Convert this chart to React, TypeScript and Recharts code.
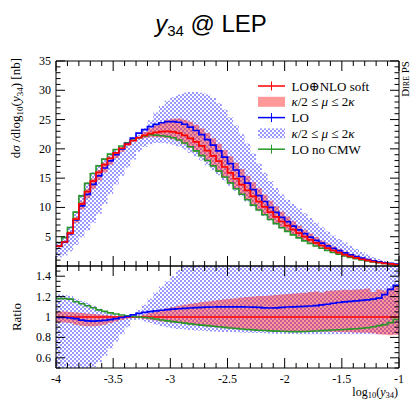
import React from 'react';
import { ComposedChart, Line, Area, XAxis, YAxis, ReferenceLine } from 'recharts';

// ---------- data ----------
const binEdges = [-4, -3.95, -3.9, -3.85, -3.8, -3.75, -3.7, -3.65, -3.6, -3.55, -3.5, -3.45, -3.4, -3.35, -3.3, -3.25, -3.2, -3.15, -3.1, -3.05, -3, -2.95, -2.9, -2.85, -2.8, -2.75, -2.7, -2.65, -2.6, -2.55, -2.5, -2.45, -2.4, -2.35, -2.3, -2.25, -2.2, -2.15, -2.1, -2.05, -2, -1.95, -1.9, -1.85, -1.8, -1.75, -1.7, -1.65, -1.6, -1.55, -1.5, -1.45, -1.4, -1.35, -1.3, -1.25, -1.2, -1.15, -1.1, -1.05, -1];

// LO(+)NLO soft (red)
const nloSoft = [3.4, 4.1, 5.6, 8.0, 10.6, 12.7, 14.5, 16.0, 17.3, 18.4, 19.3, 20.1, 20.8, 21.4, 21.9, 22.3, 22.6, 22.8, 22.95, 23.0, 22.9, 22.7, 22.3, 21.8, 21.2, 20.5, 19.7, 18.8, 17.9, 16.9, 15.9, 14.9, 13.9, 12.9, 11.9, 11.0, 10.1, 9.2, 8.4, 7.6, 6.9, 6.2, 5.6, 5.0, 4.45, 3.95, 3.5, 3.05, 2.65, 2.3, 1.95, 1.65, 1.4, 1.15, 0.95, 0.75, 0.6, 0.45, 0.35, 0.25];
const nloSoftLow = [3.21, 3.87, 5.26, 7.4, 9.7, 11.56, 13.2, 14.64, 16.0, 17.3, 18.43, 19.5, 20.49, 21.29, 21.68, 21.85, 21.97, 22.0, 21.96, 21.85, 21.62, 21.29, 20.78, 20.19, 19.5, 18.74, 17.89, 16.96, 16.06, 15.07, 14.12, 13.17, 12.23, 11.3, 10.38, 9.55, 8.74, 7.93, 7.22, 6.52, 5.91, 5.3, 4.79, 4.28, 3.81, 3.39, 3.0, 2.61, 2.27, 1.96, 1.66, 1.4, 1.19, 0.97, 0.8, 0.63, 0.51, 0.38, 0.3, 0.21];
const nloSoftHigh = [3.59, 4.33, 5.88, 8.36, 11.02, 13.14, 14.94, 16.4, 17.65, 18.68, 19.49, 20.22, 20.88, 21.51, 22.16, 22.86, 23.5, 24.05, 24.56, 24.96, 25.14, 25.2, 24.98, 24.63, 24.13, 23.49, 22.71, 21.81, 20.89, 19.82, 18.73, 17.64, 16.54, 15.42, 14.28, 13.26, 12.17, 11.13, 10.21, 9.27, 8.45, 7.63, 6.9, 6.19, 5.54, 4.94, 4.34, 3.83, 3.34, 2.9, 2.47, 2.09, 1.78, 1.46, 1.22, 0.93, 0.76, 0.57, 0.45, 0.33];

// LO (blue)
const loValues = [3.38, 4.08, 5.54, 7.88, 10.28, 12.22, 13.92, 15.39, 16.73, 17.94, 19.01, 20.0, 20.9, 21.83, 22.67, 23.3, 23.78, 24.17, 24.46, 24.66, 24.66, 24.54, 24.2, 23.72, 23.13, 22.43, 21.59, 20.64, 19.67, 18.59, 17.49, 16.39, 15.28, 14.16, 13.04, 12.03, 11.01, 10.01, 9.16, 8.31, 7.58, 6.82, 6.17, 5.53, 4.93, 4.39, 3.91, 3.43, 3.01, 2.63, 2.24, 1.9, 1.62, 1.34, 1.11, 0.88, 0.71, 0.55, 0.44, 0.33];
const loLow = [1.5, 1.8, 2.5, 3.6, 4.9, 6.1, 7.4, 8.9, 10.6, 12.3, 13.9, 15.4, 16.8, 18.2, 19.5, 20.3, 20.8, 21.0, 21.0, 20.9, 20.7, 20.4, 19.9, 19.3, 18.7, 18.0, 17.2, 16.35, 15.5, 14.6, 13.7, 12.8, 11.9, 11.0, 10.1, 9.33, 8.54, 7.77, 7.09, 6.41, 5.82, 5.22, 4.72, 4.21, 3.75, 3.33, 2.95, 2.57, 2.23, 1.94, 1.64, 1.39, 1.18, 0.97, 0.8, 0.63, 0.5, 0.38, 0.29, 0.21];
const loHigh = [4.2, 5.0, 6.8, 9.4, 12.2, 14.3, 16.0, 17.3, 18.4, 19.2, 19.9, 20.5, 21.2, 22.0, 22.4, 23.5, 24.9, 26.2, 27.3, 28.2, 28.8, 29.3, 29.6, 29.7, 29.7, 29.6, 29.3, 28.7, 27.8, 26.7, 25.4, 24.0, 22.5, 20.9, 19.2, 17.5, 15.9, 14.5, 13.3, 12.2, 11.3, 10.6, 9.8, 9.0, 8.2, 7.4, 6.6, 5.9, 5.2, 4.6, 4.0, 3.45, 2.9, 2.4, 1.95, 1.55, 1.2, 0.85, 0.55, 0.3];

// LO no CMW (green)
const noCmw = [4.0, 4.84, 6.58, 9.2, 11.98, 14.1, 15.8, 17.1, 18.25, 19.1, 19.9, 20.5, 21.05, 21.5, 21.9, 22.2, 22.4, 22.35, 22.25, 22.1, 21.9, 21.5, 21.0, 20.35, 19.65, 18.85, 18.0, 17.1, 16.2, 15.2, 14.2, 13.2, 12.25, 11.3, 10.4, 9.57, 8.76, 7.95, 7.24, 6.54, 5.92, 5.31, 4.8, 4.29, 3.83, 3.41, 3.03, 2.65, 2.31, 2.01, 1.71, 1.45, 1.24, 1.02, 0.85, 0.68, 0.55, 0.42, 0.33, 0.24];

// Ratio panel (relative to LO(+)NLO soft)
const ratioLo = [0.995, 0.995, 0.99, 0.985, 0.97, 0.962, 0.96, 0.962, 0.967, 0.975, 0.985, 0.995, 1.005, 1.02, 1.035, 1.045, 1.052, 1.06, 1.066, 1.072, 1.077, 1.081, 1.085, 1.088, 1.091, 1.094, 1.096, 1.098, 1.099, 1.1, 1.1, 1.1, 1.099, 1.098, 1.096, 1.094, 1.09, 1.088, 1.09, 1.094, 1.098, 1.1, 1.102, 1.105, 1.108, 1.112, 1.118, 1.125, 1.135, 1.142, 1.148, 1.153, 1.158, 1.163, 1.168, 1.175, 1.185, 1.22, 1.27, 1.31];
const ratioNoCmw = [1.18, 1.18, 1.175, 1.15, 1.13, 1.11, 1.09, 1.07, 1.055, 1.04, 1.03, 1.02, 1.012, 1.005, 1.0, 0.995, 0.99, 0.98, 0.97, 0.962, 0.955, 0.948, 0.94, 0.933, 0.927, 0.92, 0.915, 0.91, 0.905, 0.898, 0.892, 0.887, 0.882, 0.878, 0.874, 0.87, 0.867, 0.864, 0.862, 0.86, 0.858, 0.857, 0.857, 0.858, 0.86, 0.863, 0.866, 0.869, 0.872, 0.875, 0.878, 0.881, 0.885, 0.89, 0.895, 0.905, 0.915, 0.925, 0.945, 0.975];
const ratioNloLow = [0.945, 0.945, 0.94, 0.925, 0.915, 0.91, 0.91, 0.915, 0.925, 0.94, 0.955, 0.97, 0.985, 0.995, 0.99, 0.98, 0.972, 0.965, 0.957, 0.95, 0.944, 0.938, 0.932, 0.926, 0.92, 0.914, 0.908, 0.902, 0.897, 0.892, 0.888, 0.884, 0.88, 0.876, 0.872, 0.868, 0.865, 0.862, 0.86, 0.858, 0.856, 0.855, 0.855, 0.856, 0.857, 0.858, 0.858, 0.857, 0.855, 0.853, 0.851, 0.85, 0.848, 0.846, 0.845, 0.84, 0.83, 0.825, 0.82, 0.825];
const ratioNloHigh = [1.055, 1.055, 1.05, 1.045, 1.04, 1.035, 1.03, 1.025, 1.02, 1.015, 1.01, 1.006, 1.004, 1.005, 1.012, 1.025, 1.04, 1.055, 1.07, 1.085, 1.098, 1.11, 1.12, 1.13, 1.138, 1.146, 1.153, 1.16, 1.167, 1.173, 1.178, 1.184, 1.19, 1.195, 1.2, 1.205, 1.205, 1.21, 1.215, 1.22, 1.225, 1.23, 1.232, 1.238, 1.245, 1.25, 1.24, 1.255, 1.26, 1.262, 1.268, 1.265, 1.27, 1.272, 1.28, 1.245, 1.27, 1.26, 1.285, 1.3];
const ratioLoLow = [0.4, 0.4, 0.4, 0.42, 0.45, 0.48, 0.51, 0.56, 0.62, 0.69, 0.76, 0.83, 0.9, 0.97, 0.975, 0.955, 0.94, 0.925, 0.91, 0.9, 0.89, 0.883, 0.877, 0.872, 0.868, 0.864, 0.861, 0.858, 0.856, 0.854, 0.852, 0.85, 0.848, 0.846, 0.844, 0.842, 0.84, 0.838, 0.836, 0.835, 0.834, 0.833, 0.832, 0.832, 0.831, 0.831, 0.83, 0.83, 0.83, 0.83, 0.83, 0.83, 0.83, 0.83, 0.83, 0.83, 0.83, 0.83, 0.83, 0.83];
const ratioLoHigh = [1.22, 1.215, 1.205, 1.18, 1.16, 1.14, 1.11, 1.08, 1.055, 1.035, 1.02, 1.008, 1.002, 1.01, 1.07, 1.12, 1.18, 1.24, 1.3, 1.35, 1.4, 1.46, 1.52, 1.58, 1.6, 1.6, 1.6, 1.6, 1.6, 1.6, 1.6, 1.6, 1.6, 1.6, 1.6, 1.6, 1.6, 1.6, 1.6, 1.6, 1.6, 1.6, 1.6, 1.6, 1.6, 1.6, 1.6, 1.6, 1.6, 1.6, 1.6, 1.6, 1.6, 1.6, 1.6, 1.6, 1.6, 1.6, 1.6, 1.6];

// ticks
const xTicks = [-4, -3.9, -3.8, -3.7, -3.6, -3.5, -3.4, -3.3, -3.2, -3.1, -3, -2.9, -2.8, -2.7, -2.6, -2.5, -2.4, -2.3, -2.2, -2.1, -2, -1.9, -1.8, -1.7, -1.6, -1.5, -1.4, -1.3, -1.2, -1.1, -1];
const xMajor = [-4, -3.5, -3, -2.5, -2, -1.5, -1];
const mainYTicks = [1, 2, 3, 4, 5, 6, 7, 8, 9, 10, 11, 12, 13, 14, 15, 16, 17, 18, 19, 20, 21, 22, 23, 24, 25, 26, 27, 28, 29, 30, 31, 32, 33, 34, 35];
const mainYMajor = [5, 10, 15, 20, 25, 30, 35];
const ratioYTicks = [0.5, 0.55, 0.6, 0.65, 0.7, 0.75, 0.8, 0.85, 0.9, 0.95, 1, 1.05, 1.1, 1.15, 1.2, 1.25, 1.3, 1.35, 1.4, 1.45, 1.5];
const ratioYMajor = [0.6, 0.8, 1, 1.2, 1.4];

// ---------- tables ----------
const mainRows = binEdges.map((x, i) => {
  const k = Math.min(i, nloSoft.length - 1);
  return {
    x,
    nlo: nloSoft[k],
    nloBand: [nloSoftLow[k], nloSoftHigh[k]],
    lo: loValues[k],
    loBand: [loLow[k], loHigh[k]],
    nocmw: noCmw[k],
  };
});
const ratioRows = binEdges.map((x, i) => {
  const k = Math.min(i, ratioLo.length - 1);
  return {
    x,
    lo: ratioLo[k],
    nocmw: ratioNoCmw[k],
    nloBand: [ratioNloLow[k], ratioNloHigh[k]],
    loBand: [ratioLoLow[k], ratioLoHigh[k]],
  };
});

// ---------- style ----------
const SERIF = '"Liberation Serif", "DejaVu Serif", serif';
const RED = '#ff0000';
const BLUE = '#0000ff';
const GREEN = '#2a962a';
const HATCH = '#9898ff';

const isMajor = (v: number, majors: number[]) => majors.some((m) => Math.abs(m - v) < 1e-6);

const makeTick = (side: string, majors: number[], majorLen: number, minorLen: number, label: boolean) =>
  (props: any) => {
    const { x, y, payload } = props;
    const v = payload.value;
    const major = isMajor(v, majors);
    const len = major ? majorLen : minorLen;
    let x2 = x, y2 = y;
    if (side === 'bottom') y2 = y - len;
    if (side === 'top') y2 = y + len;
    if (side === 'left') x2 = x + len;
    if (side === 'right') x2 = x - len;
    let text = null;
    if (label && major) {
      if (side === 'bottom') {
        text = (
          <text x={x} y={y + 14.5} textAnchor="middle" fontFamily={SERIF} fontSize={12} fill="#000">
            {String(v)}
          </text>
        );
      } else if (side === 'left') {
        text = (
          <text x={x - 5} y={y + 4} textAnchor="end" fontFamily={SERIF} fontSize={12} fill="#000">
            {String(v)}
          </text>
        );
      }
    }
    return (
      <g>
        <line x1={x} y1={y} x2={x2} y2={y2} stroke="#000" strokeWidth={1} />
        {text}
      </g>
    );
  };

const tickBottomMain = makeTick('bottom', xMajor, 10, 5, false);
const tickBottomRatio = makeTick('bottom', xMajor, 10, 5, true);
const tickTop = makeTick('top', xMajor, 10, 5, false);
const tickLeftMain = makeTick('left', mainYMajor, 9, 4.5, true);
const tickRightMain = makeTick('right', mainYMajor, 9, 4.5, false);
const tickLeftRatio = makeTick('left', ratioYMajor, 9, 4.5, true);
const tickRightRatio = makeTick('right', ratioYMajor, 9, 4.5, false);

const axisLine = { stroke: '#000', strokeWidth: 1 };

function HatchDefs({ id }: { id: string }) {
  return (
    <defs>
      <pattern id={id} patternUnits="userSpaceOnUse" width="4" height="4">
        <rect x="0" y="0" width="2" height="2" fill={HATCH} />
        <rect x="2" y="2" width="2" height="2" fill={HATCH} />
      </pattern>
    </defs>
  );
}

function MainChart() {
  return (
    <ComposedChart width={413} height={267} data={mainRows} margin={{ top: 60, right: 13, bottom: 0, left: 55 }}>
      <defs>
        <pattern id="hatchMain" patternUnits="userSpaceOnUse" width="4" height="4">
          <rect x="0" y="0" width="2" height="2" fill={HATCH} />
          <rect x="2" y="2" width="2" height="2" fill={HATCH} />
        </pattern>
      </defs>
      <Area xAxisId="b" yAxisId="l" dataKey="loBand" type="stepAfter" fill="url(#hatchMain)" fillOpacity={1} stroke="none" isAnimationActive={false} dot={false} activeDot={false} />
      <Area xAxisId="b" yAxisId="l" dataKey="nloBand" type="stepAfter" fill={RED} fillOpacity={0.4} stroke="none" isAnimationActive={false} dot={false} activeDot={false} />
      <Line xAxisId="b" yAxisId="l" dataKey="nocmw" type="stepAfter" stroke={GREEN} strokeWidth={1.6} dot={false} activeDot={false} isAnimationActive={false} />
      <Line xAxisId="b" yAxisId="l" dataKey="lo" type="stepAfter" stroke={BLUE} strokeWidth={1.7} dot={false} activeDot={false} isAnimationActive={false} />
      <Line xAxisId="b" yAxisId="l" dataKey="nlo" type="stepAfter" stroke={RED} strokeWidth={1.7} dot={false} activeDot={false} isAnimationActive={false} />
      <Line xAxisId="t" yAxisId="r" dataKey="nlo" type="stepAfter" stroke="none" dot={false} activeDot={false} isAnimationActive={false} />
      <XAxis xAxisId="b" dataKey="x" type="number" domain={[-4, -1]} ticks={xTicks} interval={0} height={1}
        tickSize={0} tickMargin={0} tick={tickBottomMain} tickLine={false} axisLine={axisLine} allowDataOverflow />
      <XAxis xAxisId="t" orientation="top" dataKey="x" type="number" domain={[-4, -1]} ticks={xTicks} interval={0} height={1}
        tickSize={0} tickMargin={0} tick={tickTop} tickLine={false} axisLine={axisLine} allowDataOverflow />
      <YAxis yAxisId="l" type="number" domain={[0, 35]} ticks={mainYTicks} interval={0} width={1}
        tickSize={0} tickMargin={0} tick={tickLeftMain} tickLine={false} axisLine={axisLine} allowDataOverflow />
      <YAxis yAxisId="r" orientation="right" type="number" domain={[0, 35]} ticks={mainYTicks} interval={0} width={1}
        tickSize={0} tickMargin={0} tick={tickRightMain} tickLine={false} axisLine={axisLine} allowDataOverflow />
    </ComposedChart>
  );
}

function RatioChart() {
  return (
    <ComposedChart width={413} height={401} data={ratioRows} margin={{ top: 265, right: 13, bottom: 32, left: 55 }}>
      <defs>
        <pattern id="hatchRatio" patternUnits="userSpaceOnUse" width="4" height="4">
          <rect x="0" y="0" width="2" height="2" fill={HATCH} />
          <rect x="2" y="2" width="2" height="2" fill={HATCH} />
        </pattern>
      </defs>
      <Area xAxisId="b" yAxisId="l" dataKey="loBand" type="stepAfter" fill="url(#hatchRatio)" fillOpacity={1} stroke="none" isAnimationActive={false} dot={false} activeDot={false} />
      <Area xAxisId="b" yAxisId="l" dataKey="nloBand" type="stepAfter" fill={RED} fillOpacity={0.4} stroke="none" isAnimationActive={false} dot={false} activeDot={false} />
      <ReferenceLine xAxisId="b" yAxisId="l" y={1} stroke={RED} strokeWidth={1.7} />
      <Line xAxisId="b" yAxisId="l" dataKey="nocmw" type="stepAfter" stroke={GREEN} strokeWidth={1.6} dot={false} activeDot={false} isAnimationActive={false} />
      <Line xAxisId="b" yAxisId="l" dataKey="lo" type="stepAfter" stroke={BLUE} strokeWidth={1.7} dot={false} activeDot={false} isAnimationActive={false} />
      <Line xAxisId="t" yAxisId="r" dataKey="lo" type="stepAfter" stroke="none" dot={false} activeDot={false} isAnimationActive={false} />
      <XAxis xAxisId="b" dataKey="x" type="number" domain={[-4, -1]} ticks={xTicks} interval={0} height={1}
        tickSize={0} tickMargin={0} tick={tickBottomRatio} tickLine={false} axisLine={axisLine} allowDataOverflow />
      <XAxis xAxisId="t" orientation="top" dataKey="x" type="number" domain={[-4, -1]} ticks={xTicks} interval={0} height={1}
        tickSize={0} tickMargin={0} tick={tickTop} tickLine={false} axisLine={axisLine} allowDataOverflow />
      <YAxis yAxisId="l" type="number" domain={[0.5, 1.5]} ticks={ratioYTicks} interval={0} width={1}
        tickSize={0} tickMargin={0} tick={tickLeftRatio} tickLine={false} axisLine={axisLine} allowDataOverflow />
      <YAxis yAxisId="r" orientation="right" type="number" domain={[0.5, 1.5]} ticks={ratioYTicks} interval={0} width={1}
        tickSize={0} tickMargin={0} tick={tickRightRatio} tickLine={false} axisLine={axisLine} allowDataOverflow />
    </ComposedChart>
  );
}

const legendRows = [
  { kind: 'line', color: RED, label: 'nlo' },
  { kind: 'band', color: RED, label: 'scale' },
  { kind: 'line', color: BLUE, label: 'lo' },
  { kind: 'hatch', color: HATCH, label: 'scale' },
  { kind: 'line', color: GREEN, label: 'nocmw' },
];

function LegendLabel({ label }: { label: string }) {
  if (label === 'nlo') return <>LO⊕NLO soft</>;
  if (label === 'lo') return <>LO</>;
  if (label === 'nocmw') return <>LO no CMW</>;
  return (
    <>
      <tspan fontStyle="italic">κ</tspan>
      <tspan>/2 ≤ </tspan>
      <tspan fontStyle="italic">μ</tspan>
      <tspan> ≤ 2</tspan>
      <tspan fontStyle="italic">κ</tspan>
    </>
  );
}

function Overlay() {
  return (
    <svg width={413} height={401} style={{ position: 'absolute', left: 0, top: 0, pointerEvents: 'none' }}>
      <HatchDefs id="hatchLegend" />
      {/* title */}
      <text x={211} y={32} textAnchor="middle" fontFamily='"Liberation Sans", Arial, sans-serif' fontSize={24} fill="#000">
        <tspan fontStyle="italic">y</tspan>
        <tspan fontSize={15} dy={4}>34</tspan>
        <tspan dy={-4}> @ LEP</tspan>
      </text>
      {/* y label main */}
      <text transform="rotate(-90)" x={-58} y={20} textAnchor="end" fontFamily={SERIF} fontSize={13} fill="#000">
        <tspan>d</tspan>
        <tspan fontStyle="italic">σ</tspan>
        <tspan> /dlog</tspan>
        <tspan fontSize={9} dy={3}>10</tspan>
        <tspan dy={-3}>(</tspan>
        <tspan fontStyle="italic">y</tspan>
        <tspan fontSize={9} dy={3}>34</tspan>
        <tspan dy={-3}>) [nb]</tspan>
      </text>
      {/* ratio label */}
      <text transform="rotate(-90)" x={-317} y={21} textAnchor="middle" fontFamily={SERIF} fontSize={13} fill="#000">
        Ratio
      </text>
      {/* x label */}
      <text x={398} y={395.5} textAnchor="end" fontFamily={SERIF} fontSize={12} fill="#000">
        <tspan>log</tspan>
        <tspan fontSize={8.5} dy={2.5}>10</tspan>
        <tspan dy={-2.5}>(</tspan>
        <tspan fontStyle="italic">y</tspan>
        <tspan fontSize={8.5} dy={2.5}>34</tspan>
        <tspan dy={-2.5}>)</tspan>
      </text>
      {/* side label */}
      <text transform="rotate(-90)" x={-61} y={409} textAnchor="end" fontFamily={SERIF} fontSize={11} fill="#000" style={{ fontVariant: 'small-caps' }}>
        Dire PS
      </text>
      {/* legend */}
      {legendRows.map((r, i) => {
        const cy = 86 + i * 15.8;
        return (
          <g key={i}>
            {r.kind === 'line' && (
              <g>
                <line x1={258} y1={cy} x2={285} y2={cy} stroke={r.color} strokeWidth={1.5} />
                <line x1={271.5} y1={cy - 4.5} x2={271.5} y2={cy + 4.5} stroke={r.color} strokeWidth={1} />
              </g>
            )}
            {r.kind === 'band' && <rect x={258} y={cy - 5} width={27} height={10} fill={RED} fillOpacity={0.4} />}
            {r.kind === 'hatch' && <rect x={258} y={cy - 5} width={27} height={10} fill="url(#hatchLegend)" />}
            <text x={291.5} y={cy + 4.5} fontFamily={SERIF} fontSize={13} fill="#000">
              <LegendLabel label={r.label} />
            </text>
          </g>
        );
      })}
    </svg>
  );
}

export default function App() {
  return (
    <div style={{ position: 'absolute', left: 0, top: 0, width: 413, height: 401, background: '#fff' }}>
      <div style={{ position: 'absolute', left: 0, top: 0 }}>
        <RatioChart />
      </div>
      <div style={{ position: 'absolute', left: 0, top: 0 }}>
        <MainChart />
      </div>
      <Overlay />
    </div>
  );
}
